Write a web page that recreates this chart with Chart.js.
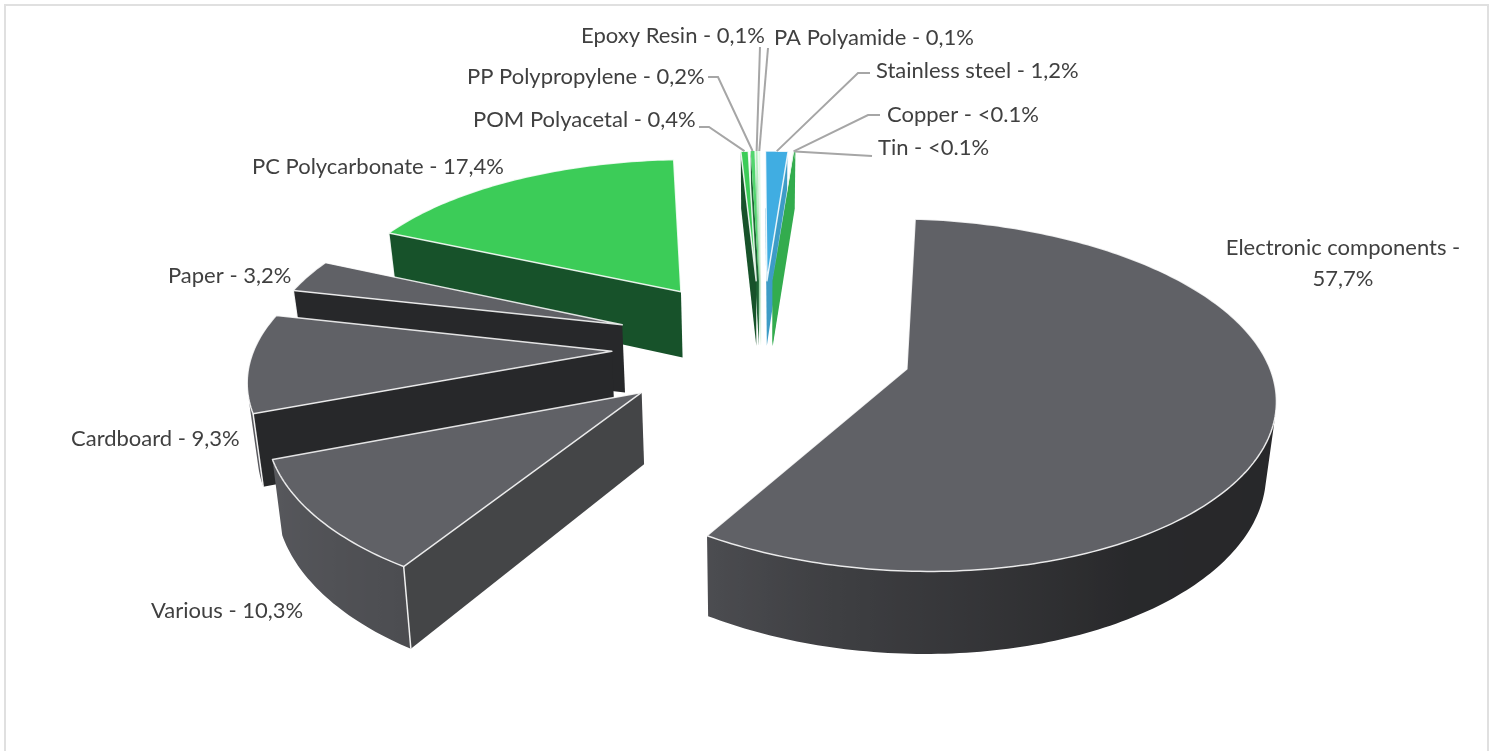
<!DOCTYPE html>
<html>
<head>
<meta charset="utf-8">
<style>
  html, body { margin: 0; padding: 0; background: #fff; }
  #frame { position: absolute; left: 4px; top: 4px; width: 1481px; height: 760px; border: 2px solid #e0e0e0; box-sizing: content-box; }
  #wrap { position: relative; width: 1494px; height: 751px; overflow: hidden; }
  canvas { position: absolute; left: 0; top: 0; }
</style>
<script src="https://cdn.jsdelivr.net/npm/chart.js@4"></script>
</head>
<body>
<div id="wrap">
  <div id="frame"></div>
  <canvas id="pie" width="1494" height="751"></canvas>
</div>
<script>
// Data
const categories = ["Electronic components", "Various", "Cardboard", "Paper", "PC Polycarbonate", "POM Polyacetal",
    "PP Polypropylene", "Epoxy Resin", "PA Polyamide", "Stainless steel", "Copper", "Tin"];
const shares = [57.7, 10.3, 9.3, 3.2, 17.4, 0.4, 0.2, 0.1, 0.1, 1.2, 0.05, 0.05];
const shareLabels = ["57,7%", "10,3%", "9,3%", "3,2%", "17,4%", "0,4%", "0,2%", "0,1%", "0,1%", "1,2%", "<0.1%", "<0.1%"];

// Colours
const topColors = ["#606166", "#606166", "#606166", "#606166", "#3ccc58", "#3ccc58", "#52d66e", "#b5edc0", "#e4f8e8", "#40ade2", "#dff3e4", "#33ac4e"];
const wallColors = ["#444547", "#444547", "#27282a", "#27282a", "#17522a", "#17522a", "#1d6434", "#9fd8ab", "#d5ecd9", "#3d9cc6", "#33ac4e", "#33ac4e"];

// Label layout: text x, text y, align
const labelSpots = [[1343, 0, "center"], [151, 611, "left"], [71, 439, "left"], [168, 276, "left"], [252, 167, "left"],
    [473, 120, "left"], [467, 77, "left"], [581, 36, "left"], [774, 38, "left"], [876, 71, "left"], [887, 115, "left"], [878, 148, "left"]];
// Leader elbows from the label towards the slice (last point comes from the slice)
const leaderElbows = {
    5: [[699, 127], [709, 127]],
    6: [[708, 77], [718, 77]],
    7: [[760, 47]],
    8: [[768, 48]],
    9: [[870, 73], [858, 73]],
    10: [[880, 115], [868, 115]],
    11: [[872, 156]]
};

// 3D view
const TILT = 0.465;
const PERSP_X = 0.13;
const PERSP_Y = 0.145;
const DEPTH = 69;
const FONT = '22px Lato';

function project(arc, x, y, down) {
    const r = arc.outerRadius;
    const sx = 1 / (1 - PERSP_X * y / r) * (down ? 0.98 : 1);
    const sy = 1 / (1 - PERSP_Y * y / r);
    return [arc.x + x * sx, arc.y + (y * TILT + (down ? DEPTH : 0)) * sy];
}

function rimPoint(arc, angle, radius) {
    const mid = (arc.startAngle + arc.endAngle) / 2;
    const off = arc.options.offset;
    return [off * Math.cos(mid) + radius * Math.cos(angle), off * Math.sin(mid) + radius * Math.sin(angle)];
}

function polyArea(pts) {
    let sum = 0;
    pts.forEach((p, i) => {
        const q = pts[(i + 1) % pts.length];
        sum += p[0] * q[1] - q[0] * p[1];
    });
    return sum;
}

function tracePoly(ctx, pts) {
    ctx.beginPath();
    pts.forEach((p, i) => i ? ctx.lineTo(p[0], p[1]) : ctx.moveTo(p[0], p[1]));
    ctx.closePath();
}

function scaleColor(hex, f) {
    const n = parseInt(hex.slice(1), 16);
    const c = [n >> 16, (n >> 8) & 255, n & 255].map(v => Math.round(v * f));
    return `rgb(${c[0]},${c[1]},${c[2]})`;
}

// side shade by clockwise angle from the top of the pie
const shadeStops = [[90, 0.4], [150, 0.42], [195, 0.66], [214, 0.8], [255, 0.93], [300, 0.93]];
function outerShade(angle) {
    const deg = ((angle + Math.PI / 2) * 180 / Math.PI + 360) % 360;
    if (deg <= shadeStops[0][0]) return shadeStops[0][1];
    for (let i = 1; i < shadeStops.length; i++) {
        const [a1, v1] = shadeStops[i - 1], [a2, v2] = shadeStops[i];
        if (deg <= a2) return v1 + (v2 - v1) * (deg - a1) / (a2 - a1);
    }
    return shadeStops[shadeStops.length - 1][1];
}

function drawOuterWall(ctx, top, rim, angles, up, dn) {
    const tops = [], bottoms = [], used = [];
    for (let k = 0; k < rim.length - 1; k++) {
        const quad = [up(rim[k]), up(rim[k + 1]), dn(rim[k + 1]), dn(rim[k])];
        if (polyArea(quad) >= 0) continue;
        if (!tops.length) { tops.push(quad[0]); bottoms.push(quad[3]); used.push(angles[k]); }
        tops.push(quad[1]);
        bottoms.push(quad[2]);
        used.push(angles[k + 1]);
    }
    if (tops.length < 2) return;
    const xs = tops.map(p => p[0]);
    const x0 = Math.min(...xs), x1 = Math.max(...xs);
    const grad = ctx.createLinearGradient(x0, 0, x1, 0);
    tops.forEach((p, k) => grad.addColorStop((p[0] - x0) / (x1 - x0), scaleColor(top, outerShade(used[k]))));
    tracePoly(ctx, tops.concat(bottoms.reverse()));
    ctx.fillStyle = grad;
    ctx.fill();
}

function drawSlice(ctx, arc, i) {
    const top = topColors[i];
    const span = arc.endAngle - arc.startAngle;
    const steps = Math.max(1, Math.ceil(span / (Math.PI / 180)));
    const apex = rimPoint(arc, arc.startAngle, 0);
    const angles = [];
    for (let k = 0; k <= steps; k++) angles.push(arc.startAngle + span * k / steps);
    const rim = angles.map(a => rimPoint(arc, a, arc.outerRadius));
    const up = p => project(arc, p[0], p[1], false);
    const dn = p => project(arc, p[0], p[1], true);

    // radial walls
    const startWall = [up(apex), up(rim[0]), dn(rim[0]), dn(apex)];
    const endWall = [up(apex), up(rim[steps]), dn(rim[steps]), dn(apex)];
    const walls = [[startWall, polyArea(startWall) < 0], [endWall, polyArea(endWall) > 0]];
    walls.forEach(([wall, visible]) => {
        if (!visible) return;
        tracePoly(ctx, wall);
        ctx.fillStyle = wallColors[i];
        ctx.fill();
    });

    drawOuterWall(ctx, top, rim, angles, up, dn);

    // white corner lines
    if (span > Math.PI / 90) {
        walls.forEach(([wall, visible]) => {
            if (!visible) return;
            ctx.beginPath();
            ctx.moveTo(wall[1][0], wall[1][1]);
            ctx.lineTo(wall[2][0], wall[2][1]);
            ctx.strokeStyle = "rgba(255,255,255,0.9)";
            ctx.lineWidth = 1.5;
            ctx.stroke();
        });
    }

    // top face
    tracePoly(ctx, [up(apex)].concat(rim.map(up)));
    ctx.fillStyle = top;
    ctx.fill();
    if (span > Math.PI / 180) {
        ctx.strokeStyle = "rgba(255,255,255,0.85)";
        ctx.lineWidth = 1.5;
        ctx.stroke();
    }
}

const pie3d = {
    id: "pie3d",
    beforeDatasetsDraw(chart) {
        const ctx = chart.ctx;
        const arcs = chart.getDatasetMeta(0).data;
        const order = arcs.map((a, i) => i).sort((p, q) =>
            Math.sin((arcs[p].startAngle + arcs[p].endAngle) / 2) - Math.sin((arcs[q].startAngle + arcs[q].endAngle) / 2));
        ctx.save();
        ctx.lineJoin = "round";
        order.forEach(i => drawSlice(ctx, arcs[i], i));
        ctx.restore();
        return false;
    },
    afterDraw(chart) {
        const ctx = chart.ctx;
        const arcs = chart.getDatasetMeta(0).data;
        ctx.save();
        // leaders
        ctx.strokeStyle = "#a6a6a6";
        ctx.lineWidth = 2;
        Object.keys(leaderElbows).forEach(k => {
            const arc = arcs[k];
            const mid = (arc.startAngle + arc.endAngle) / 2;
            const end = project(arc, ...rimPoint(arc, mid, arc.outerRadius), false);
            const pts = leaderElbows[k].concat([end]);
            ctx.beginPath();
            pts.forEach((p, i) => i ? ctx.lineTo(p[0], p[1]) : ctx.moveTo(p[0], p[1]));
            ctx.stroke();
        });
        // labels
        ctx.fillStyle = "#404040";
        ctx.font = FONT;
        ctx.textBaseline = "middle";
        categories.forEach((name, i) => {
            const [x, y, align] = labelSpots[i];
            ctx.textAlign = align;
            if (i === 0) {
                ctx.fillText(`${name} -`, x, 248);
                ctx.fillText(shareLabels[i], x, 279);
            } else {
                ctx.fillText(`${name} - ${shareLabels[i]}`, x, y);
            }
        });
        ctx.restore();
    }
};

new Chart(document.getElementById("pie").getContext("2d"), {
    type: "pie",
    data: {
        labels: categories,
        datasets: [{
            data: shares,
            backgroundColor: topColors,
            borderWidth: 0,
            offset: 150,
            radius: 357
        }]
    },
    options: {
        responsive: false,
        animation: false,
        rotation: 4.5,
        layout: { padding: { left: 30, bottom: 58 } },
        plugins: { legend: { display: false }, tooltip: { enabled: false } }
    },
    plugins: [pie3d]
});
</script>
</body>
</html>
